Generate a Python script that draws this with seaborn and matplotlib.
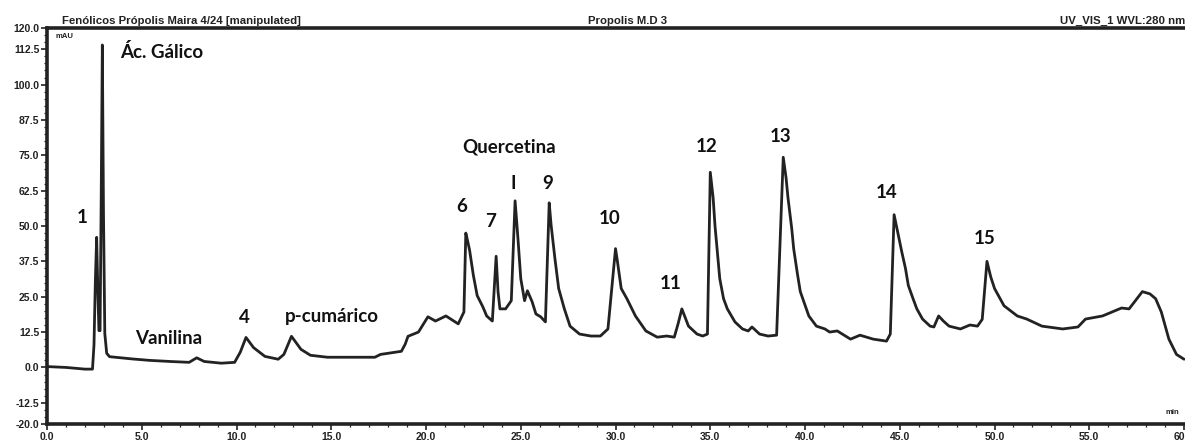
import matplotlib
matplotlib.use("Agg")
import matplotlib.pyplot as plt
import seaborn as sns
import pandas as pd
from matplotlib.ticker import FixedLocator, MultipleLocator

# ---------------- data ----------------
time_a = [0.0, 1.0, 2.0, 2.4, 2.48, 2.55, 2.62, 2.68, 2.74, 2.8, 2.86, 2.92, 2.98, 3.05, 3.15, 3.3]
mau_a = [0.3, 0.0, -0.6, -0.6, 8, 30, 46, 28, 13, 13, 60, 114, 55, 12, 5, 3.8]

time_b = [4.5, 5.4, 6.5, 7.5, 7.9, 8.3, 9.2, 9.9, 10.2, 10.5, 10.9, 11.5, 12.2, 12.5, 12.9,
          13.4, 13.9, 14.8, 16.2, 17.3, 17.6, 18.7, 18.9, 19.05]
mau_b = [3.0, 2.5, 2.1, 1.8, 3.4, 2.1, 1.5, 1.8, 5.4, 10.6, 7.0, 3.9, 2.9, 4.6, 11.0,
         6.4, 4.3, 3.6, 3.6, 3.6, 4.6, 5.7, 8.2, 11.0]

time_c = [19.6, 20.1, 20.5, 21.05, 21.7, 22.0, 22.1, 22.2, 22.3, 22.5, 22.7, 23.0, 23.2, 23.5,
          23.7, 23.8, 23.9, 24.2, 24.5, 24.7, 24.85, 25.0, 25.2, 25.35, 25.6, 25.8, 26.05, 26.3,
          26.5, 26.6, 26.8, 27.0, 27.3, 27.6, 28.1, 28.7, 29.2, 29.6]
mau_c = [12.5, 17.9, 16.4, 18.2, 15.4, 19.6, 47.5, 44.6, 41.4, 32.5, 25.4, 21.4, 18.2, 16.4,
         39.3, 26.8, 20.7, 20.7, 23.6, 58.9, 45.7, 31.4, 23.6, 27.1, 23.2, 18.9, 17.9, 16.1,
         58.2, 50.4, 38.6, 27.9, 20.7, 14.6, 11.8, 11.1, 11.1, 13.6]

time_d = [30.0, 30.1, 30.3, 30.6, 31.05, 31.6, 32.2, 32.7, 33.1, 33.3, 33.5, 33.85, 34.3, 34.6,
          34.85, 35.0, 35.15, 35.25, 35.4, 35.5, 35.7, 35.9, 36.3, 36.7, 37.0, 37.2, 37.6, 38.05,
          38.5, 38.85, 39.0, 39.1, 39.3, 39.4, 39.6, 39.75, 40.2, 40.6, 41.05, 41.3, 41.7, 42.4,
          42.9, 43.6, 44.3, 44.5, 44.7, 44.9, 45.1, 45.3, 45.45, 45.7, 45.9, 46.2, 46.6, 46.8,
          47.05, 47.3, 47.6, 48.2, 48.7, 49.1, 49.35, 49.6, 49.8, 50.0, 50.5, 51.2, 51.7, 52.5,
          53.6, 54.4, 54.8, 55.7, 56.7, 57.1, 57.8, 58.2, 58.5, 58.8, 59.2, 59.6, 60.0]
mau_d = [42.0, 37.5, 27.9, 24.3, 18.2, 12.9, 10.7, 11.1, 10.7, 15.4, 20.7, 14.6, 11.8, 11.1,
         11.8, 69.0, 60.0, 50.0, 38.6, 31.4, 24.3, 20.7, 16.1, 13.6, 12.9, 14.3, 11.8, 11.1,
         11.4, 74.3, 67.0, 60.0, 49.0, 42.0, 33.0, 26.8, 18.2, 14.6, 13.6, 12.5, 12.9, 10.0,
         11.4, 10.0, 9.3, 11.8, 54.0, 47.5, 41.0, 35.0, 29.0, 24.3, 20.7, 17.1, 14.6, 14.3,
         18.2, 16.4, 14.6, 13.6, 15.0, 14.6, 17.0, 37.5, 32.0, 27.9, 21.8, 18.2, 17.1, 14.6,
         13.6, 14.3, 17.1, 18.2, 21.0, 20.7, 26.8, 26.0, 24.3, 19.6, 10.0, 4.6, 2.9]

peak_labels = ["1", "Ác. Gálico", "Vanilina", "4", "p-cumárico", "6", "7", "Quercetina", "I",
               "9", "10", "11", "12", "13", "14", "15"]
peak_label_t = [1.85, 3.85, 6.4, 10.4, 15.05, 21.9, 23.4, 24.4, 24.6,
                26.4, 29.7, 32.9, 34.8, 38.7, 44.3, 49.5]
peak_label_v = [52.9, 111.5, 10.4, 17.5, 18.0, 57.0, 51.5, 78.0, 65.0,
                65.0, 52.5, 29.5, 78.0, 81.5, 62.0, 45.5]

y_ticks = [120.0, 112.5, 100.0, 87.5, 75.0, 62.5, 50.0, 37.5, 25.0, 12.5, 0.0, -12.5, -20.0]
x_ticks = [0, 5, 10, 15, 20, 25, 30, 35, 40, 45, 50, 55, 60]

header_left = "Fenólicos Própolis Maira 4/24 [manipulated]"
header_center = "Propolis M.D 3"
header_right = "UV_VIS_1 WVL:280 nm"

# ---------------- figure ----------------
sns.set_style("white")
plt.rcParams['font.family'] = ['Liberation Sans', 'DejaVu Sans']

W, H = 1185, 442
fig = plt.figure(figsize=(W / 100, H / 100), dpi=100)
ax = fig.add_axes([47 / W, 18 / H, 1 - 47 / W, (424 - 28) / H])

df = pd.DataFrame({"time": time_a + time_b + time_c + time_d,
                   "mAU": mau_a + mau_b + mau_c + mau_d})
sns.lineplot(data=df, x="time", y="mAU", ax=ax, color="#222222", linewidth=2.0,
             sort=False, estimator=None)

ax.set_xlim(0, 60.05)
ax.set_ylim(-20, 120)
ax.set_xlabel("")
ax.set_ylabel("")

for s in ["left", "top", "bottom"]:
    ax.spines[s].set_visible(True)
    ax.spines[s].set_color("#222222")
    ax.spines[s].set_linewidth(2.6)
ax.spines["right"].set_visible(False)

ax.yaxis.set_major_locator(FixedLocator(y_ticks))
ax.set_yticklabels([f"{v:.1f}" for v in y_ticks])
ax.xaxis.set_major_locator(FixedLocator(x_ticks))
ax.set_xticklabels([f"{v:.1f}" for v in x_ticks])
ax.xaxis.set_minor_locator(MultipleLocator(1))
ax.yaxis.set_minor_locator(MultipleLocator(2.5))
ax.tick_params(axis="both", which="major", direction="out", length=4, width=1.2,
               color="#222222", labelsize=7.5, labelcolor="#222222", pad=1.5,
               left=True, bottom=True)
ax.tick_params(axis="both", which="minor", direction="out", length=2, width=0.9,
               color="#222222", left=True, bottom=True)
for lab in ax.get_xticklabels() + ax.get_yticklabels():
    lab.set_fontweight("bold")

# peak labels
for txt, t, v in zip(peak_labels, peak_label_t, peak_label_v):
    ha = "left" if txt == "Ác. Gálico" else "center"
    ax.text(t, v, txt, ha=ha, va="center", fontsize=13.5, fontweight="bold",
            family=["Lato", "DejaVu Sans"], color="#111111")

# axis unit labels
fig.text(55 / W, 1 - 37 / H, "mAU", fontsize=5.5, fontweight="bold", color="#222222",
         ha="left", va="center")
fig.text(1165 / W, 1 - 413 / H, "min", fontsize=5.5, fontweight="bold", color="#222222",
         ha="left", va="center")

# header
fig.text(62 / W, 1 - 21 / H, header_left, fontsize=8.2, fontweight="bold", color="#222222",
         ha="left", va="center")
fig.text(627 / W, 1 - 21 / H, header_center, fontsize=8.2, fontweight="bold", color="#222222",
         ha="center", va="center")
fig.text(1060 / W, 1 - 21 / H, header_right, fontsize=8.2, fontweight="bold", color="#222222",
         ha="left", va="center")

fig.savefig("out.png", dpi=100, facecolor="white")
